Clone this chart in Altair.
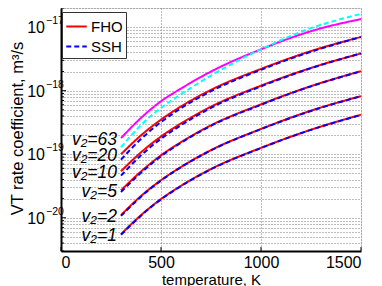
import altair as alt
import pandas as pd

# temperature grid, K
T = [300, 400, 500, 600, 750, 1000, 1250, 1500]

# VT rate coefficients, m^3/s
fho_1 = [5.5e-21, 1.1e-20, 1.97e-20, 3.18e-20, 5.85e-20, 1.26e-19, 2.43e-19, 4.18e-19]
ssh_1 = [5.4e-21, 1.08e-20, 1.95e-20, 3.15e-20, 5.8e-20, 1.25e-19, 2.42e-19, 4.15e-19]
fho_2 = [1.1e-20, 2.2e-20, 3.9e-20, 6.3e-20, 1.16e-19, 2.5e-19, 4.85e-19, 8.2e-19]
ssh_2 = [1.07e-20, 2.15e-20, 3.85e-20, 6.25e-20, 1.15e-19, 2.48e-19, 4.8e-19, 8.2e-19]
fho_5 = [2.7e-20, 5.35e-20, 9.6e-20, 1.55e-19, 2.85e-19, 6.1e-19, 1.18e-18, 2.03e-18]
ssh_5 = [2.55e-20, 5.1e-20, 9.3e-20, 1.51e-19, 2.8e-19, 6.0e-19, 1.17e-18, 2.02e-18]
fho_10 = [5.4e-20, 1.07e-19, 1.9e-19, 3.05e-19, 5.6e-19, 1.2e-18, 2.28e-18, 3.86e-18]
ssh_10 = [4.6e-20, 9.6e-20, 1.75e-19, 2.86e-19, 5.35e-19, 1.17e-18, 2.26e-18, 3.86e-18]
fho_20 = [1.0e-19, 1.98e-19, 3.5e-19, 5.65e-19, 1.03e-18, 2.2e-18, 4.2e-18, 7.0e-18]
ssh_20 = [8.2e-20, 1.74e-19, 3.2e-19, 5.28e-19, 9.8e-19, 2.13e-18, 4.1e-18, 7.0e-18]
fho_63 = [1.79e-19, 3.73e-19, 6.81e-19, 1.08e-18, 2.0e-18, 4.48e-18, 8.64e-18, 1.34e-17]
ssh_63 = [1.29e-19, 2.88e-19, 5.37e-19, 8.8e-19, 1.73e-18, 4.48e-18, 9.64e-18, 1.61e-17]

levels = [1, 2, 5, 10, 20, 63]
level_labels = ["v₂=1", "v₂=2", "v₂=5", "v₂=10", "v₂=20", "v₂=63"]
fho_all = [fho_1, fho_2, fho_5, fho_10, fho_20, fho_63]
ssh_all = [ssh_1, ssh_2, ssh_5, ssh_10, ssh_20, ssh_63]

series_names = ["FHO", "SSH", "FHO63", "SSH63"]
series_colors = ["#ff0000", "#0000ff", "#ff00ff", "#00ffff"]

x_ticks = [0, 500, 1000, 1500]
y_decades = [1e-20, 1e-19, 1e-18, 1e-17]
y_exponents = ["−20", "−19", "−18", "−17"]
y_grid = [3e-21, 4e-21, 5e-21, 6e-21, 7e-21, 8e-21, 9e-21,
          1e-20, 2e-20, 3e-20, 4e-20, 5e-20, 6e-20, 7e-20, 8e-20, 9e-20,
          1e-19, 2e-19, 3e-19, 4e-19, 5e-19, 6e-19, 7e-19, 8e-19, 9e-19,
          1e-18, 2e-18, 3e-18, 4e-18, 5e-18, 6e-18, 7e-18, 8e-18, 9e-18,
          1e-17, 2e-17]

rows = []
for v, f, s in zip(levels, fho_all, ssh_all):
    for t, a, b in zip(T, f, s):
        rows.append({"T": t, "k": a, "v": v, "method": "FHO",
                     "series": "FHO63" if v == 63 else "FHO"})
        rows.append({"T": t, "k": b, "v": v, "method": "SSH",
                     "series": "SSH63" if v == 63 else "SSH"})
df = pd.DataFrame(rows)

FONT = "Liberation Sans"

xscale = alt.Scale(domain=[0, 1500], nice=False)
yscale = alt.Scale(type="log", domain=[3e-21, 2e-17], nice=False)

legend = alt.Legend(values=["FHO", "SSH"], orient="none", legendX=1, legendY=4,
                    title=None, strokeColor="#333333", fillColor="white",
                    padding=3, labelFont=FONT, labelFontSize=15, labelColor="black",
                    symbolType="stroke", symbolStrokeWidth=2, symbolSize=420,
                    rowPadding=0, labelOffset=3, cornerRadius=0)

color = alt.Color("series:N", scale=alt.Scale(domain=series_names, range=series_colors),
                  legend=legend)
dash = alt.StrokeDash("series:N",
                      scale=alt.Scale(domain=series_names,
                                      range=[[1, 0], [5, 3], [1, 0], [5, 3]]),
                      legend=legend)

xaxis = alt.Axis(values=x_ticks, format="d", title="temperature, K", labelFontSize=16,
                 labelFont=FONT, labelColor="black", labelPadding=3, ticks=False,
                 grid=True, gridDash=[1, 2], gridColor="#7a7a7a", gridWidth=1,
                 domainColor="black", domainWidth=2, titleFont=FONT,
                 titleFontSize=15, titleFontWeight="normal", titleColor="black",
                 titleY=28, titleBaseline="middle")
yaxis = alt.Axis(values=y_grid, labels=False, ticks=False, grid=True,
                 gridDash=[1, 2], gridColor="#7a7a7a", gridWidth=1,
                 domainColor="black", domainWidth=2,
                 title="VT rate coefficient, m³/s", titleFont=FONT,
                 titleFontSize=16.5, titleFontWeight="normal", titleColor="black",
                 titleX=-44, titleY=120, titleAngle=270, titleBaseline="middle",
                 titleAlign="center")

base = alt.Chart(df)

fho = base.transform_filter(alt.datum.method == "FHO").mark_line(
    strokeWidth=2, interpolate="monotone").encode(
    x=alt.X("T:Q", scale=xscale, axis=xaxis),
    y=alt.Y("k:Q", scale=yscale, axis=yaxis),
    color=color, strokeDash=dash, detail="v:N")

ssh = base.transform_filter(alt.datum.method == "SSH").mark_line(
    strokeWidth=2, interpolate="monotone").encode(
    x=alt.X("T:Q", scale=xscale),
    y=alt.Y("k:Q", scale=yscale),
    color=color, strokeDash=dash, detail="v:N")

# inward tick marks
ytick_df = pd.DataFrame({"val": y_grid,
                         "major": [v in y_decades for v in y_grid]})
yminor = alt.Chart(ytick_df).transform_filter("!datum.major").mark_rule(
    color="black", strokeWidth=1).encode(
    y=alt.Y("val:Q", scale=yscale), x=alt.value(0), x2=alt.value(3))
ymajor = alt.Chart(ytick_df).transform_filter("datum.major").mark_rule(
    color="black", strokeWidth=1).encode(
    y=alt.Y("val:Q", scale=yscale), x=alt.value(0), x2=alt.value(5))
xt = alt.Chart(pd.DataFrame({"t": x_ticks})).mark_rule(
    color="black", strokeWidth=1).encode(
    x=alt.X("t:Q", scale=xscale), y=alt.value(243), y2=alt.value(239))

# y tick labels "10" with raised exponent
dec_df = pd.DataFrame({"val": y_decades, "base": ["10"] * 4, "exp": y_exponents})
ylab_base = alt.Chart(dec_df).mark_text(
    align="right", baseline="middle", font=FONT, fontSize=16, color="black",
    dy=1).encode(y=alt.Y("val:Q", scale=yscale), x=alt.value(-16), text="base:N")
ylab_exp = alt.Chart(dec_df).mark_text(
    align="left", baseline="middle", font=FONT, fontSize=10.5, color="black",
    dy=-6).encode(y=alt.Y("val:Q", scale=yscale), x=alt.value(-15), text="exp:N")

# curve labels
lab_df = pd.DataFrame({"T": [T[0]] * len(levels),
                       "k": [f[0] for f in fho_all],
                       "text": level_labels})
labels = alt.Chart(lab_df).mark_text(
    align="right", baseline="middle", font=FONT, fontSize=17.5, fontStyle="italic",
    color="black", dx=-4, dy=2).encode(
    x=alt.X("T:Q", scale=xscale), y=alt.Y("k:Q", scale=yscale), text="text:N")

chart = alt.layer(fho, ssh, yminor, ymajor, xt, ylab_base, ylab_exp, labels).properties(
    width=300, height=243,
    padding={"left": 53, "top": 0, "right": 13, "bottom": 35},
    autosize=alt.AutoSizeParams(type="none"),
).configure_view(stroke=None).configure(background="white")

chart.save("out.html", embed_options={"renderer": "svg", "actions": False})
